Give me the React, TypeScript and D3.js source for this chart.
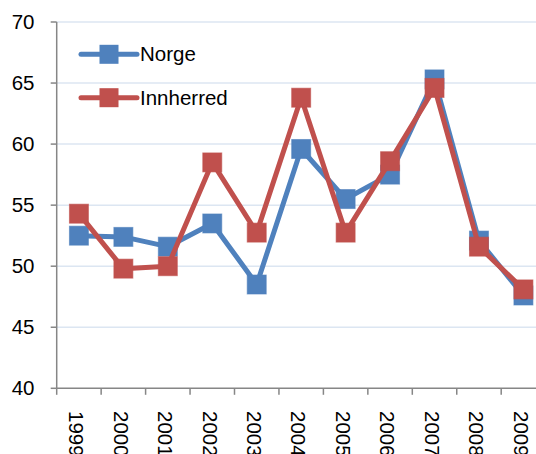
import React from "react";
import * as d3 from "d3";

const years = ["1999","2000","2001","2002","2003","2004","2005","2006","2007","2008","2009"];
const norge = [52.5, 52.4, 51.6, 53.5, 48.5, 59.6, 55.5, 57.5, 65.3, 52.1, 47.6];
const innherred = [54.3, 49.8, 50.0, 58.5, 52.75, 63.8, 52.75, 58.6, 64.6, 51.6, 48.1];
const yTicks = [40, 45, 50, 55, 60, 65, 70];
const seriesNames = ["Norge", "Innherred"];
const colors = ["#4F81BD", "#C0504D"];

export default function App() {
  const W = 536, H = 454;
  const x0 = 56.7, plotTop = 22, plotBottom = 388.3;
  const band = 44.45;
  const x = d3.scaleBand<string>().domain(years).range([x0, x0 + band * years.length]).padding(0);
  const y = d3.scaleLinear().domain([40, 70]).range([plotBottom, plotTop]);
  const line = d3.line<number>().x((_, i) => (x(years[i]) as number) + x.bandwidth() / 2).y((d) => y(d));
  const font = "'Liberation Sans', Arial, sans-serif";
  const series = [norge, innherred];
  const ms = 19;
  const fs = 20.5;

  return (
    <svg width={W} height={H} style={{ position: "absolute", left: 0, top: 0, background: "#fff" }} fontFamily={font}>
      {yTicks.map((t) => (
        <g key={t}>
          {t > 40 && <line x1={x0} x2={W} y1={y(t)} y2={y(t)} stroke="#DCE6F2" strokeWidth={1.5} />}
          <line x1={x0 - 6} x2={x0} y1={y(t)} y2={y(t)} stroke="#868686" strokeWidth={1.5} />
          <text x={34.5} y={y(t)} dy="0.35em" textAnchor="end" fontSize={fs} fill="#000">{t}</text>
        </g>
      ))}
      <line x1={x0} x2={x0} y1={plotTop} y2={plotBottom} stroke="#868686" strokeWidth={1.5} />
      <line x1={x0} x2={W} y1={plotBottom} y2={plotBottom} stroke="#868686" strokeWidth={1.5} />
      {years.map((yr, i) => (
        <line key={"t" + yr} x1={x0 + band * i} x2={x0 + band * i} y1={plotBottom} y2={plotBottom + 6.5} stroke="#868686" strokeWidth={1.5} />
      ))}
      {years.map((yr) => {
        const cx = (x(yr) as number) + x.bandwidth() / 2;
        return (
          <text key={"l" + yr} transform={`translate(${cx - 2.5},${411}) rotate(90)`} dy="0.35em" fontSize={fs} fill="#000">{yr}</text>
        );
      })}
      {series.map((s, si) => (
        <g key={si}>
          <path d={line(s) || ""} fill="none" stroke={colors[si]} strokeWidth={5} strokeLinejoin="round" />
          {s.map((v, i) => {
            const cx = (x(years[i]) as number) + x.bandwidth() / 2;
            return <rect key={i} x={cx - ms / 2} y={y(v) - ms / 2} width={ms} height={ms} fill={colors[si]} stroke={colors[si]} strokeOpacity={0.6} strokeWidth={1} />;
          })}
        </g>
      ))}
      {seriesNames.map((n, i) => {
        const ly = 54.3 + i * 43.4;
        return (
          <g key={n}>
            <line x1={81} x2={137} y1={ly} y2={ly} stroke={colors[i]} strokeWidth={5} strokeLinecap="round" />
            <rect x={109 - 9.5} y={ly - 9.5} width={19} height={19} fill={colors[i]} />
            <text x={140} y={ly} dy="0.35em" fontSize={fs} fill="#000">{n}</text>
          </g>
        );
      })}
    </svg>
  );
}
